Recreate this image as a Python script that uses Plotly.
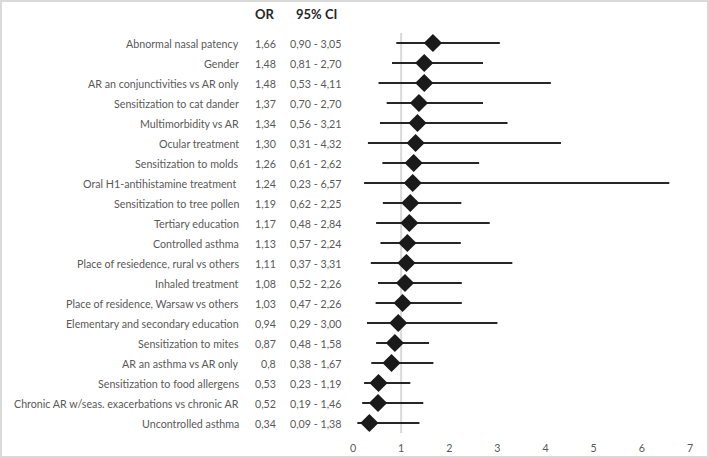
import plotly.graph_objects as go

labels = [
    "Abnormal nasal patency",
    "Gender",
    "AR an conjunctivities vs AR only",
    "Sensitization to cat dander",
    "Multimorbidity vs AR",
    "Ocular treatment",
    "Sensitization to molds",
    "Oral H1-antihistamine treatment ",
    "Sensitization to tree pollen",
    "Tertiary education",
    "Controlled asthma",
    "Place of resiedence, rural vs others",
    "Inhaled treatment",
    "Place of residence, Warsaw vs others",
    "Elementary and secondary education",
    "Sensitization to mites",
    "AR an asthma vs AR only",
    "Sensitization to food allergens",
    "Chronic AR w/seas. exacerbations vs chronic AR",
    "Uncontrolled asthma",
]
or_vals = [1.66, 1.48, 1.48, 1.37, 1.34, 1.30, 1.26, 1.24, 1.19, 1.17,
           1.13, 1.11, 1.08, 1.03, 0.94, 0.87, 0.80, 0.53, 0.52, 0.34]
or_text = ["1,66", "1,48", "1,48", "1,37", "1,34", "1,30", "1,26", "1,24", "1,19", "1,17",
           "1,13", "1,11", "1,08", "1,03", "0,94", "0,87", "0,8", "0,53", "0,52", "0,34"]
ci_low = [0.90, 0.81, 0.53, 0.70, 0.56, 0.31, 0.61, 0.23, 0.62, 0.48,
          0.57, 0.37, 0.52, 0.47, 0.29, 0.48, 0.38, 0.23, 0.19, 0.09]
ci_high = [3.05, 2.70, 4.11, 2.70, 3.21, 4.32, 2.62, 6.57, 2.25, 2.84,
           2.24, 3.31, 2.26, 2.26, 3.00, 1.58, 1.67, 1.19, 1.46, 1.38]
x_ticks = [0, 1, 2, 3, 4, 5, 6, 7]

def fmt(v):
    return f"{v:.2f}".replace(".", ",")

ci_text = [f"{fmt(a)} - {fmt(b)}" for a, b in zip(ci_low, ci_high)]
rows = list(range(len(labels)))

W, H = 709, 458
ML, MR, MT, MB = 353, 19, 33, 25
PW = W - ML - MR
PH = H - MT - MB

def px_to_paper(px):
    return (px - ML) / PW

fig = go.Figure()
fig.add_trace(go.Scatter(
    x=or_vals, y=rows, mode="markers",
    marker=dict(symbol="diamond", size=14, color="#1a1a1a"),
    error_x=dict(type="data", symmetric=False,
                 array=[h - o for h, o in zip(ci_high, or_vals)],
                 arrayminus=[o - l for o, l in zip(or_vals, ci_low)],
                 width=0, thickness=2, color="#262626"),
    showlegend=False, hoverinfo="skip",
))

# reference line at 1
fig.add_shape(type="line", xref="x", yref="paper", x0=1, x1=1, y0=0, y1=1,
              line=dict(color="#d9d9d9", width=2), layer="below")

# border around the image
fig.add_shape(type="rect", xref="paper", yref="paper",
              x0=px_to_paper(1), x1=px_to_paper(W - 1),
              y0=-(MB - 1) / PH, y1=1 + (MT - 1) / PH,
              line=dict(color="#d9d9d9", width=2))

txt_font = dict(family="Lato, Open Sans, sans-serif", size=10.7, color="#595959")
for r, lab, ot, ct in zip(rows, labels, or_text, ci_text):
    fig.add_annotation(x=px_to_paper(241), xref="paper", y=r, yref="y", text=lab,
                       showarrow=False, xanchor="right", font=txt_font)
    fig.add_annotation(x=px_to_paper(278), xref="paper", y=r, yref="y", text=ot,
                       showarrow=False, xanchor="right", font=txt_font)
    fig.add_annotation(x=px_to_paper(288), xref="paper", y=r, yref="y", text=ct,
                       showarrow=False, xanchor="left", font=txt_font)

hdr_font = dict(family="Lato, Open Sans, sans-serif", size=13, color="#262626")
fig.add_annotation(x=px_to_paper(265), xref="paper", y=1 + 19 / PH, yref="paper",
                   text="<b>OR</b>", showarrow=False, xanchor="center", yanchor="middle",
                   font=hdr_font)
fig.add_annotation(x=px_to_paper(316), xref="paper", y=1 + 19 / PH, yref="paper",
                   text="<b>95% CI</b>", showarrow=False, xanchor="center", yanchor="middle",
                   font=hdr_font)

fig.update_layout(
    width=W, height=H,
    margin=dict(l=ML, r=MR, t=MT, b=MB),
    paper_bgcolor="white", plot_bgcolor="white",
    xaxis=dict(range=[0, 7], tickvals=x_ticks, showgrid=False, zeroline=False,
               showline=False, ticks="outside", ticklen=5, tickcolor="rgba(0,0,0,0)",
               tickfont=txt_font, automargin=False),
    yaxis=dict(range=[len(labels) - 0.5, -0.5], showgrid=False, zeroline=False,
               showline=False, showticklabels=False, ticks="", automargin=False),
)

fig.write_html("out.html")
